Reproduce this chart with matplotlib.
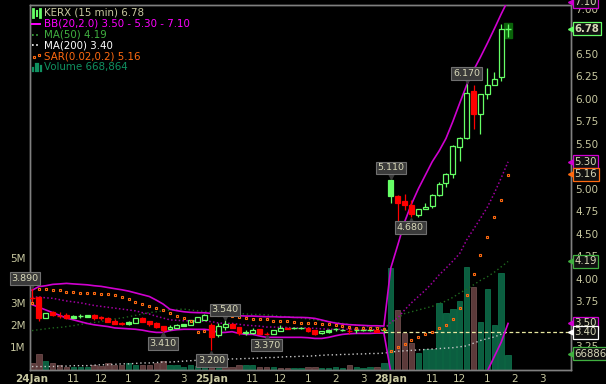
import matplotlib
matplotlib.use('Agg')
import matplotlib.pyplot as plt
from matplotlib.lines import Line2D
from matplotlib.patches import Rectangle
from matplotlib.transforms import Affine2D, offset_copy

opens = [3.79, 3.79, 3.56, 3.63, 3.59, 3.595, 3.565, 3.575, 3.575, 3.595, 3.57, 3.56, 3.53, 3.51, 3.49, 3.505, 3.56, 3.525, 3.505, 3.47,
         3.435, 3.45, 3.475, 3.482, 3.52, 3.54, 3.48, 3.367, 3.463, 3.493, 3.456, 3.39, 3.397, 3.438, 3.393, 3.385, 3.419, 3.452, 3.445, 3.442,
         3.452, 3.426, 3.389, 3.408, 3.43, 3.42, 3.43, 3.42, 3.42, 3.42, 3.43, 3.415,
         4.92, 4.92, 4.863, 4.815, 4.71, 4.77, 4.81, 4.93, 5.06, 5.16, 5.47, 5.56, 6.09, 5.835, 6.05, 6.16, 6.24, 6.78]
highs = [3.89, 3.80, 3.62, 3.64, 3.63, 3.62, 3.59, 3.60, 3.595, 3.60, 3.58, 3.57, 3.545, 3.52, 3.53, 3.56, 3.57, 3.53, 3.515, 3.475,
         3.48, 3.49, 3.495, 3.54, 3.57, 3.60, 3.50, 3.50, 3.54, 3.50, 3.46, 3.426, 3.445, 3.44, 3.408, 3.425, 3.48, 3.455, 3.455, 3.455,
         3.455, 3.43, 3.42, 3.438, 3.445, 3.435, 3.463, 3.445, 3.435, 3.435, 3.435, 3.44,
         5.11, 4.93, 4.94, 4.875, 4.77, 4.84, 4.94, 5.07, 5.18, 5.49, 5.58, 6.17, 6.155, 6.05, 6.34, 6.30, 6.83, 6.83]
lows = [3.74, 3.525, 3.56, 3.58, 3.555, 3.545, 3.555, 3.56, 3.57, 3.54, 3.54, 3.515, 3.49, 3.48, 3.48, 3.50, 3.515, 3.475, 3.445, 3.41,
        3.425, 3.445, 3.47, 3.48, 3.515, 3.535, 3.20, 3.35, 3.427, 3.445, 3.37, 3.371, 3.382, 3.385, 3.37, 3.385, 3.415, 3.44, 3.44, 3.44,
        3.408, 3.37, 3.385, 3.397, 3.42, 3.415, 3.382, 3.397, 3.415, 3.415, 3.405, 3.395,
        4.84, 4.63, 4.76, 4.68, 4.68, 4.77, 4.79, 4.92, 5.02, 5.12, 5.31, 5.55, 5.665, 5.61, 6.00, 6.16, 6.20, 6.69]
closes = [3.78, 3.56, 3.62, 3.59, 3.58, 3.555, 3.58, 3.585, 3.595, 3.565, 3.555, 3.52, 3.495, 3.49, 3.515, 3.555, 3.52, 3.495, 3.46, 3.43,
          3.46, 3.48, 3.495, 3.538, 3.567, 3.593, 3.345, 3.47, 3.49, 3.449, 3.389, 3.408, 3.426, 3.385, 3.385, 3.423, 3.452, 3.44, 3.452, 3.452,
          3.419, 3.385, 3.415, 3.426, 3.438, 3.43, 3.42, 3.43, 3.43, 3.43, 3.41, 3.425,
          5.10, 4.844, 4.815, 4.72, 4.77, 4.80, 4.93, 5.05, 5.16, 5.48, 5.56, 6.07, 5.83, 6.05, 6.16, 6.22, 6.775, 6.78]
solid_up = [6, 7, 8, 14, 22, 31, 38, 39, 43, 44, 45, 47, 48, 49, 51, 52]

volumes = [0.30, 0.70, 0.40, 0.27, 0.21, 0.13, 0.13, 0.13, 0.13, 0.22, 0.15, 0.27, 0.22, 0.18, 0.31, 0.18, 0.18, 0.18, 0.30, 0.37,
           0.18, 0.18, 0.13, 0.18, 0.15, 0.10, 0.15, 0.07, 0.10, 0.12, 0.18, 0.21, 0.18, 0.12, 0.12, 0.12, 0.07, 0.07, 0.07, 0.07,
           0.09, 0.12, 0.07, 0.07, 0.09, 0.07, 0.22, 0.12, 0.07, 0.13, 0.09, 0.30,
           4.56, 2.69, 1.64, 1.21, 0.72, 0.90, 0.94, 2.99, 2.54, 2.72, 3.09, 4.60, 3.68, 2.14, 3.62, 2.00, 4.33, 0.668864]
volume_down = [0, 1, 3, 4, 5, 9, 10, 11, 12, 13, 16, 17, 18, 19, 26, 28, 29, 30, 33, 34, 36, 37, 40, 41, 46, 50, 53, 54, 55, 64]

bb_upper = [3.87, 3.91, 3.92, 3.935, 3.94, 3.946, 3.94, 3.935, 3.93, 3.92, 3.913, 3.90, 3.887, 3.875, 3.86, 3.84, 3.82, 3.80, 3.76, 3.716,
            3.657, 3.642, 3.63, 3.623, 3.62, 3.619, 3.612, 3.604, 3.60, 3.593, 3.586, 3.582, 3.582, 3.578, 3.575, 3.575, 3.571, 3.571, 3.567, 3.567,
            3.564, 3.556, 3.538, 3.519, 3.504, 3.493, 3.486, 3.482, 3.478, 3.474, 3.474, 3.471,
            4.117, 4.37, 4.63, 4.83, 5.00, 5.15, 5.30, 5.42, 5.56, 5.75, 5.955, 6.155, 6.32, 6.466, 6.62, 6.78, 6.945, 7.10]
bb_mid = [3.79, 3.795, 3.785, 3.78, 3.765, 3.75, 3.74, 3.73, 3.715, 3.70, 3.69, 3.68, 3.67, 3.66, 3.65, 3.64, 3.62, 3.605, 3.58, 3.56,
          3.54, 3.535, 3.53, 3.53, 3.525, 3.525, 3.52, 3.505, 3.50, 3.50, 3.49, 3.48, 3.475, 3.47, 3.46, 3.46, 3.455, 3.455, 3.45, 3.45,
          3.45, 3.445, 3.44, 3.435, 3.435, 3.435, 3.435, 3.435, 3.43, 3.43, 3.43, 3.43,
          3.515, 3.56, 3.65, 3.73, 3.80, 3.87, 3.95, 4.04, 4.115, 4.195, 4.28, 4.43, 4.55, 4.67, 4.795, 4.95, 5.12, 5.30]
bb_lower = [3.71, 3.68, 3.65, 3.62, 3.59, 3.56, 3.54, 3.52, 3.50, 3.485, 3.475, 3.465, 3.45, 3.445, 3.44, 3.435, 3.425, 3.41, 3.40, 3.40,
            3.42, 3.43, 3.435, 3.435, 3.434, 3.434, 3.426, 3.397, 3.40, 3.408, 3.389, 3.378, 3.378, 3.36, 3.345, 3.345, 3.345, 3.345, 3.345, 3.345,
            3.341, 3.333, 3.333, 3.345, 3.363, 3.378, 3.385, 3.389, 3.389, 3.389, 3.393, 3.393,
            2.96, 2.75, 2.67, 2.63, 2.60, 2.59, 2.59, 2.62, 2.69, 2.62, 2.60, 2.70, 2.78, 2.88, 2.97, 3.13, 3.29, 3.50]
ma50 = [3.42, 3.43, 3.44, 3.45, 3.455, 3.465, 3.475, 3.49, 3.50, 3.51, 3.52, 3.54, 3.55, 3.56, 3.575, 3.59, 3.605, 3.62, 3.63, 3.64,
        3.65, 3.655, 3.66, 3.65, 3.64, 3.635, 3.63, 3.625, 3.62, 3.615, 3.61, 3.605, 3.60, 3.60, 3.595, 3.59, 3.58, 3.575, 3.57, 3.56,
        3.55, 3.54, 3.53, 3.52, 3.51, 3.50, 3.49, 3.48, 3.47, 3.46, 3.455, 3.45,
        3.50, 3.56, 3.61, 3.63, 3.65, 3.67, 3.69, 3.72, 3.75, 3.79, 3.84, 3.88, 3.93, 3.98, 4.02, 4.07, 4.13, 4.19]
ma200 = [3.02, 3.02, 3.02, 3.02, 3.025, 3.025, 3.03, 3.03, 3.03, 3.035, 3.04, 3.04, 3.045, 3.05, 3.05, 3.055, 3.06, 3.06, 3.065, 3.07,
         3.07, 3.075, 3.08, 3.085, 3.09, 3.09, 3.095, 3.10, 3.10, 3.105, 3.105, 3.11, 3.11, 3.115, 3.12, 3.12, 3.125, 3.13, 3.13, 3.135,
         3.135, 3.14, 3.145, 3.15, 3.15, 3.155, 3.155, 3.16, 3.16, 3.165, 3.165, 3.17,
         3.18, 3.19, 3.195, 3.20, 3.205, 3.21, 3.215, 3.22, 3.225, 3.23, 3.24, 3.25, 3.28, 3.31, 3.33, 3.35, 3.38, 3.40]
sar = [3.723, 3.879, 3.879, 3.872, 3.868, 3.853, 3.846, 3.839, 3.835, 3.835, 3.827, 3.824, 3.812, 3.79, 3.768, 3.735, 3.712, 3.694, 3.671, 3.646,
       3.612, 3.582, 3.556, 3.53, 3.404, 3.415, 3.593, 3.593, 3.586, 3.578, 3.567, 3.56, 3.549, 3.545, 3.545, 3.53, 3.523, 3.523, 3.512, 3.508,
       3.50, 3.50, 3.493, 3.489, 3.482, 3.467, 3.463, 3.452, 3.452, 3.452, 3.445, 3.441,
       3.19, 3.233, 3.267, 3.31, 3.345, 3.38, 3.41, 3.445, 3.48, 3.545, 3.67, 3.813, 4.046, 4.258, 4.46, 4.68, 4.88, 5.15]

x_ticks = [0, 6, 10, 14, 18, 22, 26, 32, 36, 40, 44, 48, 52, 58, 62, 66, 70, 74]
x_labels = ['24Jan', '11', '12', '1', '2', '3', '25Jan', '11', '12', '1', '2', '3', '28Jan', '11', '12', '1', '2', '3']
price_ticks = [3.25, 3.75, 4.0, 4.25, 4.5, 4.75, 5.0, 5.5, 5.75, 6.0, 6.25, 6.5, 7.0]
vol_ticks = [1, 2, 3, 5]
vol_labels = ['1M', '2M', '3M', '5M']

# bar, price, text, label centre relative to the bar in pixels
callouts = [(0, 3.89, '3.890', -7, 10), (19, 3.41, '3.410', 0, -12), (28, 3.54, '3.540', 0, 10),
            (26, 3.20, '3.200', 0, -10), (34, 3.37, '3.370', 0, -10), (52, 5.11, '5.110', 0, 11),
            (55, 4.68, '4.680', -1, -10), (63, 6.17, '6.170', 0, 10)]
# value, text, colour (the volume badge sits at its bar top on the price scale)
badges = [(7.08, '7.10', '#d000d0'), (6.78, '6.78', '#66ff66'), (5.30, '5.30', '#d000d0'), (5.16, '5.16', '#ff6a10'),
          (4.19, '4.19', '#40b040'), (3.50, '3.50', '#d000d0'), (3.40, '3.40', '#ffffff'), (3.16, '668864', '#40b040')]
legend_rows = [('KERX (15 min) 6.78', '#c8c8a0'), ('BB(20,2.0) 3.50 - 5.30 - 7.10', '#ff00ff'), ('MA(50) 4.19', '#40b040'),
               ('MA(200) 3.40', '#ffffff'), ('SAR(0.02,0.2) 5.16', '#ff6a10'), ('Volume 668,864', '#109060')]

cream = '#c8c8a0'
up_col = '#66ff66'
down_col = '#ff0000'

plt.rcParams['font.family'] = 'DejaVu Sans'
fig = plt.figure(figsize=(6.06, 3.84), dpi=100, facecolor='black')
vol_ax = fig.add_axes([29.5 / 606, 14.5 / 384, 541.5 / 606, 364.5 / 384], facecolor='black')
ax = vol_ax.twinx()
ax.set_zorder(vol_ax.get_zorder() + 1)
ax.patch.set_visible(False)

bars = list(range(len(closes)))

# Volume
vol_colors = ['#5c3a3a' if i in volume_down else '#0b5e40' for i in bars]
vol_edges = ['#7a5555' if i in volume_down else '#0f7a50' for i in bars]
vol_ax.bar(bars, volumes, width=0.78, color=vol_colors, edgecolor=vol_edges, linewidth=0.5)
vol_ax.set_xlim(-0.362, 78.12)
vol_ax.set_ylim(0, 364.5 / 22.3)
vol_ax.set_yticks(vol_ticks, vol_labels)
vol_ax.yaxis.tick_left()
vol_ax.tick_params(axis='y', length=0, pad=3, labelsize=7.5, labelcolor=cream)
vol_ax.set_xticks(x_ticks, x_labels)
vol_ax.tick_params(axis='x', length=0, pad=3, labelsize=7.5, labelcolor=cream)
for lab in vol_ax.get_xticklabels():
    if 'Jan' in lab.get_text():
        lab.set_fontweight('bold')

# Indicators
ax.axhline(3.40, xmin=(51 + 0.362) / 78.482, color='#e8e8a0', lw=0.9, ls=(0, (3, 2)), zorder=2)
ax.plot(bars, ma200, color='#c8c8c8', lw=1, ls=(0, (1, 2)), zorder=2)
ax.plot(bars, ma50, color='#1f6a1f', lw=1, ls=(0, (1, 2)), zorder=2)
ax.plot(bars, bb_mid, color='#a000a0', lw=1.1, ls=(0, (1, 1.5)), zorder=2)
ax.plot(bars, bb_upper, color='#d000d0', lw=1.2, zorder=3)
ax.plot(bars, bb_lower, color='#d000d0', lw=1.2, zorder=3)
ax.plot(bars, sar, ls='none', marker='s', ms=2.0, mfc='none', mec='#ff6a10', mew=0.8, zorder=6)

# Candles, the last one sits on a highlight
last = bars[-1]
ax.add_patch(Rectangle((last - 0.55, lows[last] - 0.01), 1.1, highs[last] - lows[last] + 0.02, color='#0a640a', zorder=3))
for i in bars:
    down = closes[i] < opens[i]
    col = down_col if down else up_col
    ax.vlines(i, lows[i], highs[i], color=col, lw=0.9, zorder=4)
    face = col if down or i in solid_up else 'black'
    body = abs(closes[i] - opens[i])
    if body < 0.012:
        ax.hlines(closes[i], i - 0.4, i + 0.4, color=col, lw=1, zorder=5)
    else:
        ax.bar(i, body, bottom=min(opens[i], closes[i]), width=0.72, color=face, edgecolor=col, linewidth=0.9, zorder=5)

ax.set_xlim(-0.362, 78.12)
ax.set_ylim(2.987, 7.046)
ax.yaxis.tick_right()
ax.set_yticks(price_ticks, [f'{t:.2f}' for t in price_ticks])
ax.tick_params(axis='y', length=0, pad=3, labelsize=7.5, labelcolor=cream)

for a in (ax, vol_ax):
    for spine in a.spines.values():
        spine.set_color('#808080')
        spine.set_linewidth(1)

# High/low callouts
for i, price, text, dx, dy in callouts:
    ax.annotate(text, xy=(i, price), xytext=(dx * 0.72, dy * 0.72), textcoords='offset points',
                ha='center', va='center', fontsize=6.8, color='#d8d8b8', annotation_clip=False, zorder=9,
                bbox=dict(boxstyle='square,pad=0.18', fc='#3a3a3a', ec='#707070', lw=0.8))
    sign = 1 if dy > 0 else -1
    tip = offset_copy(ax.transData, fig=fig, x=0, y=sign * 3, units='points')
    ax.plot(i, price, marker='v' if sign > 0 else '^', ms=6, color='#3a3a3a', transform=tip, zorder=8, clip_on=False)

# Last value badges on the price axis
y_trans = ax.get_yaxis_transform()
for value, text, col in badges:
    weight = 'bold' if text == '6.78' else 'normal'
    ax.annotate(text, xy=(1, value), xycoords=y_trans, xytext=(2.5, 0), textcoords='offset points',
                ha='left', va='center', fontsize=7.3, color='#d8d8b8', fontweight=weight, annotation_clip=False, zorder=11,
                bbox=dict(boxstyle='square,pad=0.15', fc='#101010', ec=col, lw=0.9))
    ax.plot(1, value, marker='<', ms=4, color=col, transform=y_trans, clip_on=False, zorder=10)

# Legend
px = Affine2D().scale(1 / 606, -1 / 384).translate(0, 1) + fig.transFigure
for row, (text, col) in enumerate(legend_rows):
    fig.text(44 / 606, 1 - (12.7 + row * 10.9) / 384, text, color=col, fontsize=7.4, va='center', ha='left')


def icon(xs, ys, **kw):
    fig.add_artist(Line2D(xs, ys, transform=px, **kw))


icon([33, 33], [9, 17], color=up_col, lw=2)
icon([36.5, 36.5], [11, 16], color=up_col, lw=1.5)
icon([40, 40], [9, 17], color=up_col, lw=2)
icon([32, 40], [23.5, 23.5], color='#ff00ff', lw=1.4)
icon([32, 40], [34.5, 34.5], color='#40b040', lw=1.2, ls=(0, (1, 1.5)))
icon([32, 40], [45, 45], color='#ffffff', lw=1.2, ls=(0, (1, 1.5)))
icon([33.5, 39], [57, 55], color='#ff6a10', ls='none', marker='s', ms=2.0, mfc='none', mew=0.8)
for x, top in zip([33, 35.5, 38, 40.5], [68, 64, 64, 66]):
    icon([x, x], [71, top], color='#109060', lw=1.6)

fig.savefig('out.png', dpi=100, facecolor='black')
